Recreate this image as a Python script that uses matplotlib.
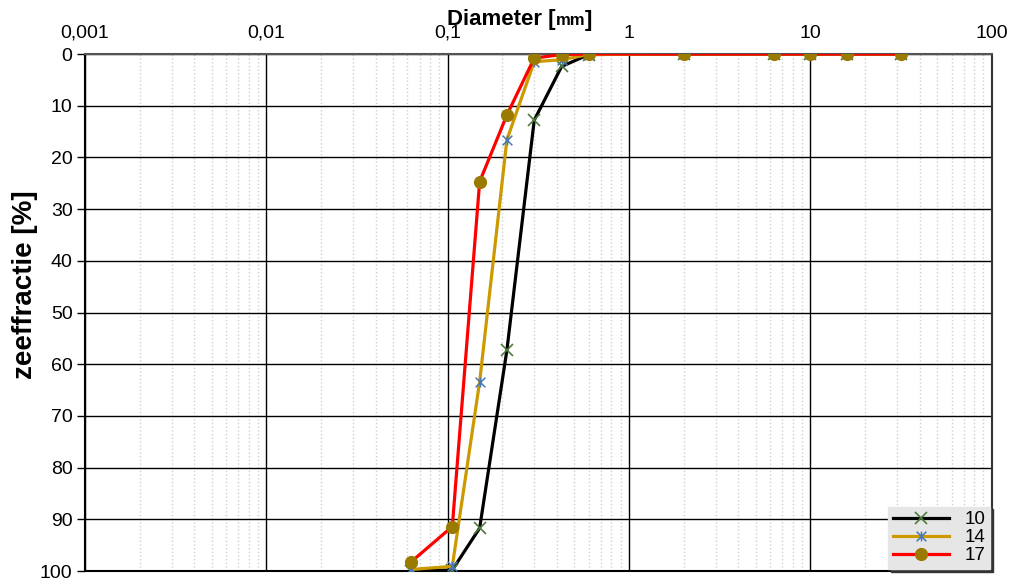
import numpy as np
from matplotlib import pyplot as plt
from matplotlib.path import Path
from matplotlib.ticker import FixedLocator, FixedFormatter, LogLocator, NullFormatter

# sieve sizes [mm] and passing fractions [%] per sample
diameter = [0.063, 0.106, 0.15, 0.212, 0.3, 0.425, 0.6, 2.0, 6.3, 10.0, 16.0, 31.5]
s10 = [100.0, 99.8, 91.7, 57.3, 12.8, 2.4, 0.1, 0.0, 0.0, 0.0, 0.0, 0.0]
s14 = [99.7, 99.1, 63.4, 16.6, 1.5, 1.1, 0.1, 0.0, 0.0, 0.0, 0.0, 0.0]
s17 = [98.2, 91.4, 24.7, 11.8, 0.8, 0.1, 0.0, 0.0, 0.0, 0.0, 0.0, 0.0]
labels = ["10", "14", "17"]

x_ticks = [0.001, 0.01, 0.1, 1, 10, 100]
x_ticklabels = ["0,001", "0,01", "0,1", "1", "10", "100"]
y_ticks = list(range(0, 101, 10))

# excel-like star marker: an X with a vertical bar
star = Path(
    [(-1, -1), (1, 1), (-1, 1), (1, -1), (0, -1), (0, 1)],
    [Path.MOVETO, Path.LINETO, Path.MOVETO, Path.LINETO, Path.MOVETO, Path.LINETO],
)

plt.rcParams["font.family"] = ["Liberation Sans", "DejaVu Sans"]
fig = plt.figure(figsize=(10.12, 5.82), dpi=100)
ax = fig.add_axes([0.084, 0.0189, 0.896, 0.8883])

ax.plot(diameter, s10, color="black", lw=2.3, marker="x", ms=8, mec="#4e7a3c",
        mew=1.2, label=labels[0], zorder=3)
ax.plot(diameter, s14, color="#cc9900", lw=2.3, marker=star, ms=7, mec="#4a78b0",
        mew=1.1, label=labels[1], zorder=4)
ax.plot(diameter, s17, color="#ff0000", lw=2.3, marker="o", ms=8.5, mfc="#9a7a00",
        mec="#9a7a00", label=labels[2], zorder=5)

ax.set_xscale("log")
ax.set_xlim(0.001, 100)
ax.set_ylim(100, 0)

ax.xaxis.set_major_locator(FixedLocator(x_ticks))
ax.xaxis.set_major_formatter(FixedFormatter(x_ticklabels))
ax.xaxis.set_minor_locator(LogLocator(base=10, subs=np.arange(2, 10)))
ax.xaxis.set_minor_formatter(NullFormatter())
ax.xaxis.tick_top()
ax.tick_params(axis="x", which="both", length=0, pad=9, labelsize=14)
ax.set_yticks(y_ticks)
ax.tick_params(axis="y", length=6, width=1, pad=3, labelsize=14)

ax.grid(axis="x", which="minor", color="#d0d0d0", linestyle=":", lw=1)
ax.grid(axis="x", which="major", color="black", lw=1)
ax.grid(axis="y", which="major", color="black", lw=1)
ax.set_axisbelow(True)

for side in ["left", "bottom", "right", "top"]:
    ax.spines[side].set_linewidth(1.5)
ax.spines["top"].set_color("#555555")
ax.spines["right"].set_color("#333333")

ax.set_ylabel("zeeffractie [%]", fontsize=20, fontweight="bold")
ax.yaxis.set_label_coords(-0.052, 0.553)

t1 = fig.text(0.4417, 0.957, "Diameter [", fontsize=16, fontweight="bold",
              ha="left", va="baseline")
t2 = ax.annotate("mm", xy=(1, 0.12), xycoords=t1, fontsize=12, fontweight="bold",
                 ha="left", va="bottom")
ax.annotate("]", xy=(1, 0), xycoords=t2, xytext=(0, -2.5), textcoords="offset points",
            fontsize=16, fontweight="bold", ha="left", va="bottom")

leg = ax.legend(loc="lower right", fontsize=13.5, frameon=True, fancybox=False,
                borderaxespad=0.1, handlelength=3.0, labelspacing=0.05,
                borderpad=0.25, shadow={"color": "#333333", "alpha": 1})
leg.get_frame().set_facecolor("#e6e6e6")
leg.get_frame().set_edgecolor("#e6e6e6")
leg.set_zorder(10)

plt.savefig("out.png", dpi=100)
